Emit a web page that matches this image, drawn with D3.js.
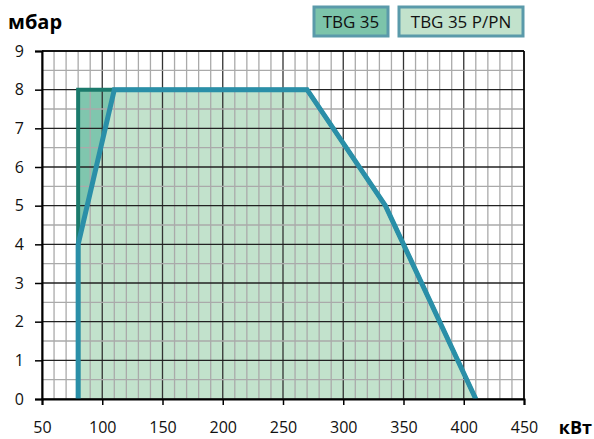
<!DOCTYPE html>
<html><head><meta charset="utf-8">
<script src="https://cdn.jsdelivr.net/npm/d3@7"></script>
<style>body{margin:0;background:#fff}svg{display:block}text{font-family:"Open Sans",sans-serif}</style>
</head><body>
<script>
const xTicks = [50,100,150,200,250,300,350,400,450];
const yTicks = [0,1,2,3,4,5,6,7,8,9];
const seriesNames = ["TBG 35","TBG 35 P/PN"];
const tbg35 = [[80,0],[80,8],[270,8],[335,5],[410,0]];
const tbg35p = [[80,0],[80,4],[110,8],[270,8],[335,5],[410,0]];

const W=594,H=439;
const svg=d3.select("body").append("svg").attr("width",W).attr("height",H);
const x=d3.scaleLinear().domain([50,450]).range([42,524]);
const y=d3.scaleLinear().domain([0,9]).range([399,51]);
const line=d3.line().x(d=>x(d[0])).y(d=>y(d[1]));

// fills
svg.append("path").attr("d",line(tbg35)+"Z").attr("fill","#80c6ae");
svg.append("path").attr("d",line(tbg35p)+"Z").attr("fill","#c2e2cc");

// grid
const g=svg.append("g");
d3.range(50,451,10).forEach(v=>{
  const major=v%50===0;
  g.append("line").attr("x1",x(v)).attr("x2",x(v)).attr("y1",y(0)).attr("y2",y(9))
   .attr("stroke",major?"#333":"#aaa").attr("stroke-width",1.3);
});
d3.range(0,9.01,0.5).forEach(v=>{
  const major=Number.isInteger(v);
  g.append("line").attr("x1",x(50)).attr("x2",x(450)).attr("y1",y(v)).attr("y2",y(v))
   .attr("stroke",major?"#222":"#aaa").attr("stroke-width",1.3);
});

// strokes
svg.append("path").attr("d",line(tbg35)).attr("fill","none").attr("stroke","#1b7a6c").attr("stroke-width",4).attr("stroke-linejoin","miter");
svg.append("path").attr("d",line(tbg35p)).attr("fill","none").attr("stroke","#2a8fa8").attr("stroke-width",5).attr("stroke-linejoin","miter");

// axes
const xa=svg.append("g").attr("transform",`translate(0,${y(0)})`)
  .call(d3.axisBottom(x).tickValues(xTicks).tickSize(6).tickPadding(17).tickFormat(d3.format("d")));
const ya=svg.append("g").attr("transform",`translate(${x(50)},0)`)
  .call(d3.axisLeft(y).tickValues(yTicks).tickSize(7).tickPadding(11).tickFormat(d3.format("d")));
[xa,ya].forEach(a=>{
  a.select(".domain").attr("stroke","#000").attr("stroke-width",2);
  a.selectAll(".tick line").attr("stroke","#000").attr("stroke-width",1.5);
  a.selectAll("text").attr("font-size",16).attr("fill","#111").attr("font-family","'Open Sans',sans-serif");
});
// right & top border
svg.append("line").attr("x1",x(450)).attr("x2",x(450)).attr("y1",y(0)).attr("y2",y(9)).attr("stroke","#000").attr("stroke-width",1.5);
svg.append("line").attr("x1",x(50)).attr("x2",x(450)).attr("y1",y(9)).attr("y2",y(9)).attr("stroke","#000").attr("stroke-width",1.5);

svg.append("text").attr("x",8).attr("y",29).attr("font-size",20).attr("font-weight","bold").text("мбар");
svg.append("text").attr("x",592).attr("y",434).attr("text-anchor","end").attr("font-size",18).attr("font-weight","bold").text("кВт");

// legend
const leg=[{name:seriesNames[0],x:314,w:74,fill:"#7cc4aa"},{name:seriesNames[1],x:399,w:124,fill:"#c2e2cc"}];
leg.forEach(l=>{
  svg.append("rect").attr("x",l.x).attr("y",7).attr("width",l.w).attr("height",29)
    .attr("fill",l.fill).attr("stroke","#5a9aaa").attr("stroke-width",3);
  svg.append("text").attr("x",l.x+l.w/2).attr("y",28).attr("text-anchor","middle")
    .attr("font-size",17).attr("fill","#111").text(l.name);
});
</script>
</body></html>
